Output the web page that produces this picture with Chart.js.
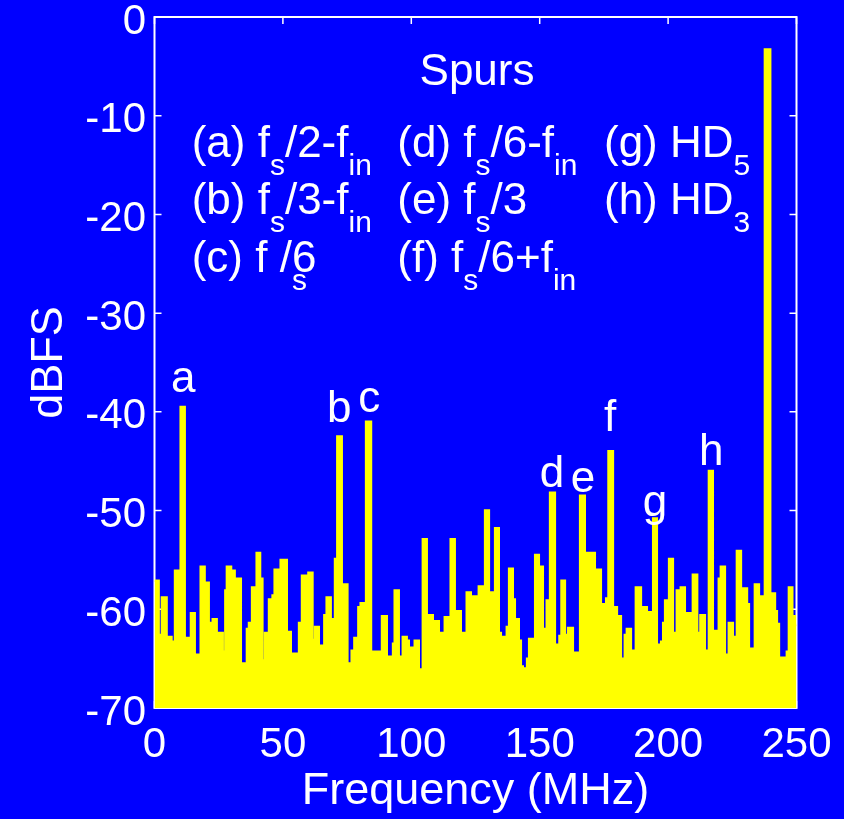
<!DOCTYPE html>
<html><head><meta charset="utf-8">
<script src="https://cdn.jsdelivr.net/npm/chart.js@4.4.1/dist/chart.umd.min.js"></script>
<style>html,body{margin:0;padding:0;background:#0000ff;overflow:hidden}canvas{display:block}</style>
</head><body>
<canvas id="c" width="844" height="819"></canvas>
<script>
// Spectrum: each level holds from its frequency to the next one (MHz, dBFS)
const freqMHz = [
  0.0,1.6,2.4,2.9,4.7,6.6,8.0,9.5,10.2,11.75,12.5,14.2,15.65,17.2,18.0,19.5,21.1,22.7,24.2,25.0,
  26.55,27.6,28.2,29.8,31.2,32.0,33.6,35.1,36.0,36.8,38.0,39.8,41.1,42.0,43.05,44.6,46.0,46.8,49.15,51.5,
  53.05,53.95,56.3,57.45,59.3,59.95,61.5,62.55,63.95,65.5,66.15,67.05,68.6,70.3,71.2,72.9,75.1,76.8,77.85,79.4,
  80.3,82.4,84.3,85.0,87.85,88.6,90.45,92.0,92.9,93.55,95.1,96.7,98.2,99.0,99.9,101.35,102.9,103.8,104.5,106.0,
  106.8,108.35,109.15,110.7,112.25,113.05,114.6,115.35,116.9,117.7,119.25,120.05,121.6,123.15,123.95,125.5,126.3,127.85,128.75,130.2,
  131.75,132.65,134.05,134.85,136.4,137.2,138.1,139.5,140.3,141.85,142.65,143.4,144.2,145.1,145.9,147.3,148.25,149.65,151.2,152.0,
  152.75,154.05,155.9,156.65,157.7,158.5,159.8,161.1,162.9,163.8,165.1,165.75,167.55,168.35,171.45,172.1,173.8,174.6,175.9,176.8,
  178.5,180.05,181.6,182.4,183.15,183.95,185.5,186.3,187.45,189.4,190.15,191.7,193.4,194.2,195.6,196.55,197.3,198.1,198.85,200.4,
  201.85,202.6,203.4,204.95,206.5,207.3,208.85,209.65,211.3,212.6,214.3,215.1,215.9,217.4,218.2,219.75,220.55,222.1,223.65,225.2,
  226.0,226.8,228.35,229.1,230.7,231.45,232.25,233.8,235.35,236.15,237.7,239.75,241.6,242.35,243.15,243.9,246.25,247.05,248.35,249.4,
  250.0
];
const levelDBFS = [
  -57.1,-62.6,-65.3,-58.8,-62.8,-63.3,-56.1,-66.3,-39.5,-64.8,-62.9,-60.4,-64.6,-66.0,-55.7,-57.3,-61.4,-61.0,-64.8,-62.4,
  -64.3,-58.1,-55.7,-56.1,-66.7,-56.9,-65.5,-67.1,-62.0,-61.4,-57.8,-54.3,-56.9,-65.2,-62.4,-59.0,-58.6,-56.0,-55.0,-62.3,
  -66.7,-64.5,-61.4,-56.6,-62.2,-56.3,-63.1,-61.8,-63.7,-64.3,-60.6,-58.8,-61.0,-54.9,-42.5,-57.5,-65.5,-64.2,-62.9,-59.8,
  -59.4,-41.0,-65.2,-64.3,-66.5,-60.7,-64.8,-65.6,-63.5,-58.1,-64.8,-62.8,-63.2,-65.9,-63.9,-63.2,-67.4,-66.1,-52.9,-65.5,
  -60.6,-62.4,-61.2,-62.4,-65.6,-60.8,-63.8,-52.9,-63.2,-60.2,-63.6,-62.4,-58.3,-64.0,-58.7,-65.4,-57.7,-62.0,-50.0,-58.3,
  -62.8,-51.8,-62.4,-62.8,-64.0,-61.8,-55.9,-59.0,-61.0,-63.2,-65.8,-66.0,-67.0,-65.0,-63.0,-68.5,-54.5,-55.7,-62.0,-63.8,
  -59.1,-48.2,-65.5,-63.6,-62.7,-57.1,-62.6,-61.9,-66.8,-64.4,-66.0,-48.5,-66.0,-54.3,-66.8,-56.0,-63.1,-59.5,-58.9,-44.0,
  -59.8,-60.7,-65.0,-67.5,-62.6,-62.0,-66.7,-64.2,-57.8,-61.8,-59.8,-60.3,-63.5,-50.8,-65.2,-63.6,-63.3,-61.4,-59.1,-54.9,
  -62.4,-66.7,-58.1,-57.8,-67.3,-60.4,-60.6,-56.5,-62.4,-60.6,-64.2,-68.3,-46.0,-65.6,-62.2,-56.9,-55.7,-64.6,-61.4,-62.8,
  -67.7,-54.1,-66.7,-57.9,-59.5,-65.0,-64.0,-57.5,-64.1,-58.7,-3.3,-58.4,-60.2,-61.5,-67.7,-64.9,-64.3,-57.8,-60.7,-61.6,
  -61.6
];
const xTickValues = [0, 50, 100, 150, 200, 250];
const yTickValues = [0, -10, -20, -30, -40, -50, -60, -70];
const spurLetters    = ['a', 'b', 'c', 'd', 'e', 'f', 'g', 'h'];
const spurLabelFreq  = [11.2, 71.9, 83.6, 154.8, 166.9, 177.4, 194.9, 216.8];
const spurLabelLevel = [-38.0, -41.0, -40.0, -47.6, -48.1, -41.9, -50.5, -45.4];

const FONT = '"Liberation Sans", Arial, sans-serif';
const WHITE = '#ffffff', BLUE = '#0000ff', YELLOW = '#ffff00';

// legend text: [column, row, parts]; part = [text, kind] kind 0 normal, 1 subscript, 2 subscript without advance
const legendCols = [191.7, 397.3, 604];
const legendRows = [157, 214, 272];
const legendItems = [
  [0, 0, [['(a) f',0],['s',1],['/2-f',0],['in',1]]],
  [0, 1, [['(b) f',0],['s',1],['/3-f',0],['in',1]]],
  [0, 2, [['(c) f /',0],['s',2],['6',0]]],
  [1, 0, [['(d) f',0],['s',1],['/6-f',0],['in',1]]],
  [1, 1, [['(e) f',0],['s',1],['/3',0]]],
  [1, 2, [['(f) f',0],['s',1],['/6+f',0],['in',1]]],
  [2, 0, [['(g) HD',0],['5',1]]],
  [2, 1, [['(h) HD',0],['3',1]]]
];

const bgPlugin = {
  id: 'bg',
  beforeDraw(chart) {
    const ctx = chart.ctx;
    ctx.save(); ctx.fillStyle = BLUE; ctx.fillRect(0, 0, chart.width, chart.height); ctx.restore();
  },
  beforeDatasetsDraw(chart) {
    const {ctx, chartArea: a, scales: {x, y}} = chart;
    ctx.save();
    ctx.strokeStyle = WHITE; ctx.lineWidth = 2;
    ctx.strokeRect(a.left, a.top, a.right - a.left, a.bottom - a.top);
    ctx.lineWidth = 1.5;
    ctx.beginPath();
    for (const v of yTickValues) {
      const p = y.getPixelForValue(v);
      ctx.moveTo(a.left, p); ctx.lineTo(a.left + 7, p);
      ctx.moveTo(a.right, p); ctx.lineTo(a.right - 7, p);
    }
    for (const v of xTickValues) {
      const p = x.getPixelForValue(v);
      ctx.moveTo(p, a.top); ctx.lineTo(p, a.top + 7);
      ctx.moveTo(p, a.bottom); ctx.lineTo(p, a.bottom - 7);
    }
    ctx.stroke();
    ctx.restore();
  },
  afterDraw(chart) {
    const {ctx, scales: {x, y}} = chart;
    ctx.save();
    ctx.fillStyle = WHITE;
    ctx.textBaseline = 'alphabetic';
    ctx.font = '44px ' + FONT;
    ctx.textAlign = 'center';
    ctx.fillText('Spurs', 477, 85);
    for (let i = 0; i < spurLetters.length; i++) {
      ctx.fillText(spurLetters[i], x.getPixelForValue(spurLabelFreq[i]), y.getPixelForValue(spurLabelLevel[i]));
    }
    ctx.textAlign = 'left';
    for (const [c, r, parts] of legendItems) {
      let px = legendCols[c];
      const py = legendRows[r];
      for (const [t, kind] of parts) {
        ctx.font = (kind ? '30px ' : '44px ') + FONT;
        ctx.fillText(t, px, py + (kind ? 18 : 0));
        if (kind !== 2) px += ctx.measureText(t).width;
      }
    }
    ctx.restore();
  }
};

new Chart(document.getElementById('c'), {
  type: 'line',
  data: {
    datasets: [{
      data: freqMHz.map((f, i) => ({x: f, y: levelDBFS[i]})),
      borderColor: YELLOW,
      backgroundColor: YELLOW,
      borderWidth: 2.5,
      pointRadius: 0,
      stepped: 'before',
      fill: 'start',
      tension: 0
    }]
  },
  options: {
    responsive: false,
    animation: false,
    devicePixelRatio: 1,
    layout: {padding: {top: 17, right: 47.5, left: 0, bottom: 0}},
    plugins: {legend: {display: false}, tooltip: {enabled: false}},
    scales: {
      x: {
        type: 'linear', min: 0, max: 250,
        afterBuildTicks: s => { s.ticks = xTickValues.map(v => ({value: v})); },
        afterFit: s => { s.height = 111; s.paddingLeft = 0; s.paddingRight = 0; },
        grid: {display: false, drawTicks: false},
        border: {display: false},
        ticks: {color: WHITE, font: {family: FONT, size: 42}, padding: 12, maxRotation: 0, autoSkip: false},
        title: {display: true, text: 'Frequency (MHz)', color: WHITE, font: {family: FONT, size: 45, lineHeight: 1.2}, padding: 0}
      },
      y: {
        type: 'linear', min: -70, max: 0,
        afterBuildTicks: s => { s.ticks = yTickValues.map(v => ({value: v})); },
        afterFit: s => { s.width = 154.5; s.paddingTop = 0; s.paddingBottom = 0; },
        grid: {display: false, drawTicks: false},
        border: {display: false},
        ticks: {color: WHITE, font: {family: FONT, size: 42}, padding: 8.5, labelOffset: 5, autoSkip: false},
        title: {display: true, text: 'dBFS', color: WHITE, font: {family: FONT, size: 45, lineHeight: 1.2}, padding: {top: 23, bottom: 0}}
      }
    }
  },
  plugins: [bgPlugin]
});
</script>
</body></html>
